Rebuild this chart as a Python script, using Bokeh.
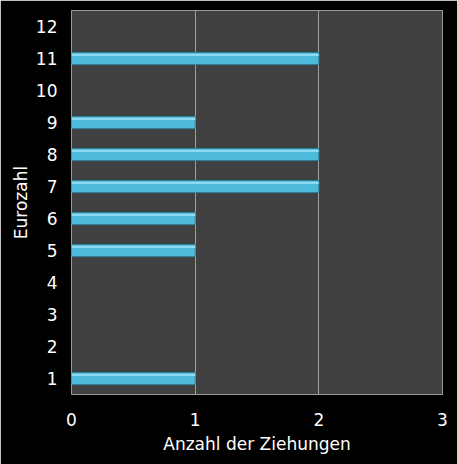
from bokeh.plotting import figure
from bokeh.models import ColumnDataSource, FixedTicker, Range1d, CDSView, BooleanFilter
from bokeh.transform import dodge
from bokeh.embed import file_html
from bokeh.resources import INLINE

eurozahl = [1, 2, 3, 4, 5, 6, 7, 8, 9, 10, 11, 12]
ziehungen = [1, 0, 0, 0, 1, 1, 2, 2, 1, 0, 2, 0]
x_ticks = [0, 1, 2, 3]

src = ColumnDataSource(dict(y=eurozahl, x=ziehungen))
view = CDSView(filter=BooleanFilter([v > 0 for v in ziehungen]))

p = figure(width=457, height=464, output_backend="svg", toolbar_location=None,
           x_range=Range1d(0, 3), y_range=Range1d(0.5, 12.5),
           min_border_left=71, min_border_right=15, min_border_top=10, min_border_bottom=70,
           background_fill_color="#404040", border_fill_color="black")

p.hbar(y="y", right="x", left=0, height=0.38, source=src, view=view,
       fill_color="#4fbbdb", line_color="#2d7f99", line_width=1)
p.hbar(y=dodge("y", 0.11, range=p.y_range), right="x", left=0, height=0.07, source=src,
       view=view, fill_color="#8fdcf0", line_color=None)

p.outline_line_color = "#9a9a9a"
p.ygrid.grid_line_color = None
p.xgrid.grid_line_color = "#a0a0a0"
p.xgrid.grid_line_width = 1

p.xaxis.ticker = FixedTicker(ticks=x_ticks)
p.yaxis.ticker = FixedTicker(ticks=eurozahl)
for ax in (p.xaxis[0], p.yaxis[0]):
    ax.axis_line_color = None
    ax.major_tick_line_color = None
    ax.minor_tick_line_color = None
    ax.major_tick_out = 0
    ax.major_tick_in = 0
    ax.minor_tick_out = 0
    ax.minor_tick_in = 0
    ax.major_label_text_color = "white"
    ax.major_label_text_font = "DejaVu Sans"
    ax.major_label_text_font_size = "17px"
    ax.axis_label_text_color = "white"
    ax.axis_label_text_font = "DejaVu Sans"
    ax.axis_label_text_font_size = "17px"
    ax.axis_label_text_font_style = "normal"

p.xaxis.axis_label = "Anzahl der Ziehungen"
p.yaxis.axis_label = "Eurozahl"
p.xaxis.major_label_standoff = 18
p.xaxis.axis_label_standoff = 5
p.yaxis.major_label_standoff = 14
p.yaxis.axis_label_standoff = 2

open("out.html", "w").write(file_html(p, INLINE))
